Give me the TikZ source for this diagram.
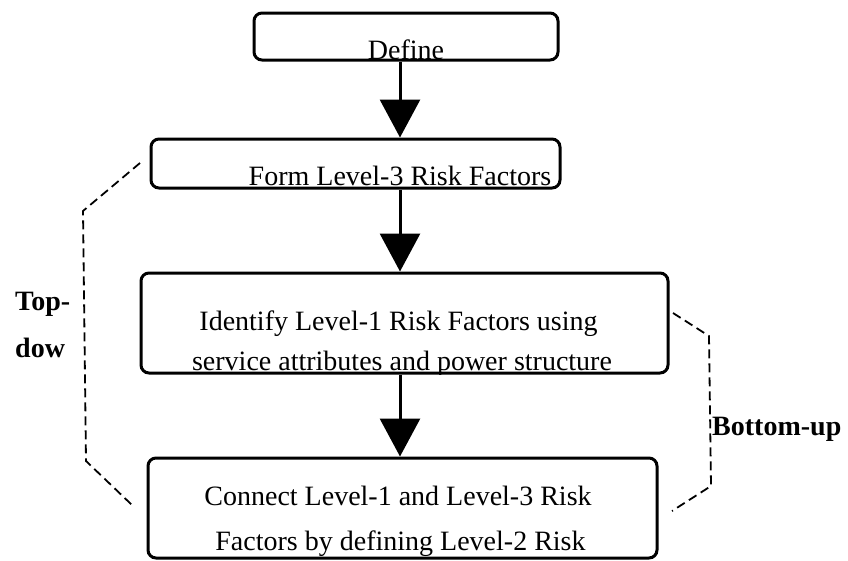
\documentclass[tikz,border=0pt]{standalone}
\usepackage{fontspec}
\setmainfont{Liberation Serif}
\usetikzlibrary{arrows.meta}
\begin{document}
\begin{tikzpicture}[x=1pt,y=-1pt,
  box/.style={draw, line width=3pt, rounded corners=8pt, inner sep=0pt},
  txt/.style={inner sep=0pt, anchor=base, font=\fontsize{28}{34}\selectfont},
  side/.style={inner sep=0pt, anchor=base west, font=\fontsize{28}{34}\selectfont\bfseries},
  flow/.style={line width=3pt, -{Triangle[width=40pt,length=38pt]}},
  brace/.style={line width=1.8pt, dash pattern=on 9pt off 5pt}]
\useasboundingbox (0,0) rectangle (848,560);

% process boxes
\node[box, minimum width=304pt, minimum height=47pt] (define) at (406,36.5) {};
\node[box, minimum width=409pt, minimum height=49pt] (form) at (355.5,163.5) {};
\node[box, minimum width=527pt, minimum height=100pt] (ident) at (404.5,323) {};
\node[box, minimum width=509pt, minimum height=100pt] (conn) at (402.5,508) {};

% box texts, cut off at the lower border of their box
\begin{scope}
  \clip (define.north west) rectangle (define.south east);
  \node[txt] (defineT) at (406,59) {Define};
\end{scope}
\begin{scope}
  \clip (form.north west) rectangle (form.south east);
  \node[txt] (formT) at (400,185) {Form Level-3 Risk Factors};
\end{scope}
\begin{scope}
  \clip (ident.north west) rectangle (ident.south east);
  \node[txt] (identA) at (398.5,330) {Identify Level-1 Risk Factors using};
  \node[txt] (identB) at (402,370) {service attributes and power structure};
\end{scope}
\begin{scope}
  \clip (conn.north west) rectangle (conn.south east);
  \node[txt] (connA) at (398,505) {Connect Level-1 and Level-3 Risk};
  \node[txt] (connB) at (400.5,550) {Factors by defining Level-2 Risk};
\end{scope}

% main flow
\coordinate (spine) at (400,0);
\draw[flow] (define.south -| spine) -- (form.north -| spine);
\draw[flow] (form.south -| spine) -- (ident.north -| spine);
\draw[flow] (ident.south -| spine) -- (conn.north -| spine);

% top-down bracket
\coordinate (tdA) at (140,163);
\coordinate (tdB) at (83,211);
\coordinate (tdC) at (86,461);
\coordinate (tdD) at (132,505);
\draw[brace] (tdA) -- (tdB) -- (tdC) -- (tdD);
\node[side] (topdownA) at (15,310) {Top-};
\node[side] (topdownB) at (15,357) {dow};

% bottom-up bracket
\coordinate (buA) at (673,313);
\coordinate (buB) at (709,336);
\coordinate (buC) at (711,486);
\coordinate (buD) at (672,511);
\draw[brace] (buA) -- (buB) -- (buC) -- (buD);
\node[side] (bottomup) at (712,435) {Bottom-up};
\end{tikzpicture}
\end{document}
